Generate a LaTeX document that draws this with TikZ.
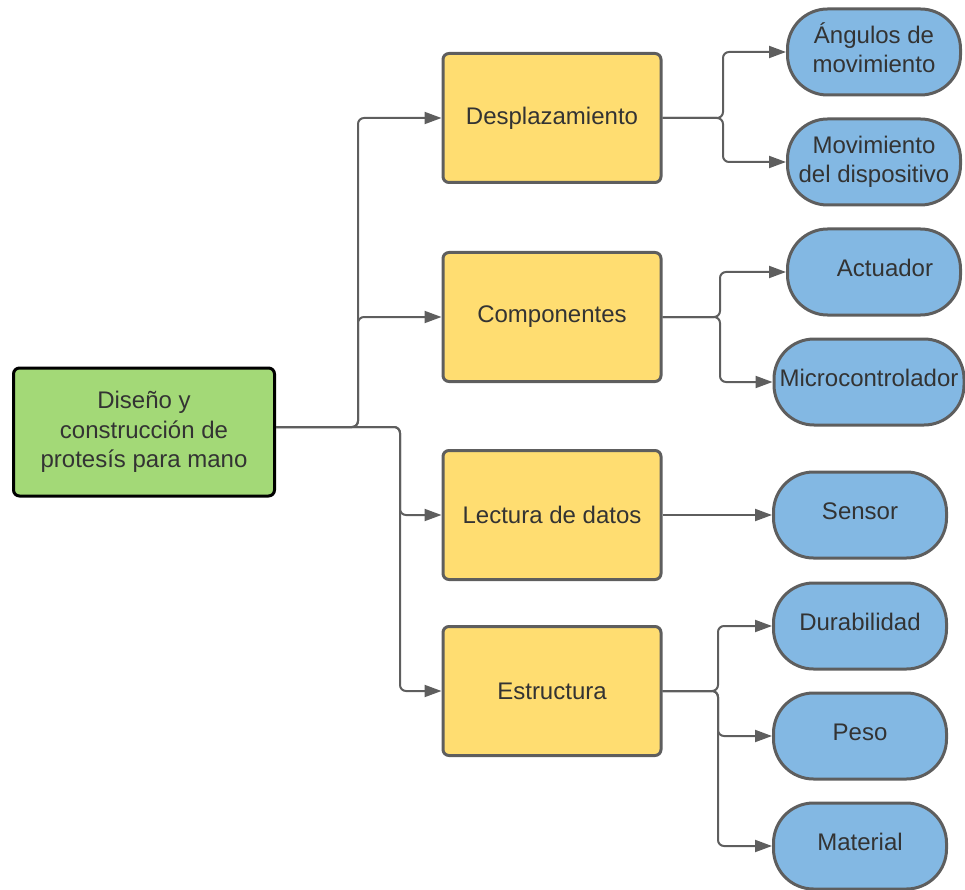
\documentclass[tikz,border=0pt]{standalone}
\usepackage{fontspec}
\setmainfont{Liberation Sans}
\usetikzlibrary{arrows.meta}
\definecolor{rootgreen}{HTML}{A3D977}
\definecolor{topicyellow}{HTML}{FFDD71}
\definecolor{leafblue}{HTML}{83B8E3}
\definecolor{edgegray}{HTML}{5E5E5E}
\definecolor{textgray}{HTML}{333333}
\begin{document}
\begin{tikzpicture}[x=1pt, y=-1pt, >={Triangle[length=17pt,width=12pt]},
  every node/.style={font=\fontsize{24}{29.5}\selectfont, text=textgray, align=center},
  root/.style={draw=black, line width=3pt, fill=rootgreen, rounded corners=6pt, minimum width=261pt, minimum height=128pt},
  topic/.style={draw=edgegray, line width=3pt, fill=topicyellow, rounded corners=6pt, minimum width=218pt, minimum height=129pt},
  leaf/.style={draw=edgegray, line width=3pt, fill=leafblue, rounded corners=40pt, minimum width=173pt, minimum height=86pt, text height=17pt, text depth=8pt},
  twoline/.style={text height=47pt, text depth=5pt},
  link/.style={draw=edgegray, line width=2pt, rounded corners=6pt, ->}]
  \useasboundingbox (0,0) rectangle (965,890);
  \node[root] (root) at (144,432) {Diseño y\\construcción de\\protesís para mano};
  \node[topic] (desp) at (552,118) {Desplazamiento};
  \node[topic] (comp) at (552,317) {Componentes};
  \node[topic] (lect) at (552,515) {Lectura de datos};
  \node[topic] (estr) at (552,691) {Estructura};
  \node[leaf, twoline] (ang) at (874,52) {Ángulos de\\movimiento};
  \node[leaf, twoline] (mov) at (874,162) {Movimiento\\del dispositivo};
  \node[leaf] (act) at (874,272) {\hspace*{22pt}Actuador};
  \node[leaf, minimum width=190pt] (micro) at (869,382) {Microcontrolador};
  \node[leaf] (sens) at (860,515) {Sensor};
  \node[leaf] (dur) at (860,626) {Durabilidad};
  \node[leaf] (peso) at (860,736) {Peso};
  \node[leaf] (mat) at (860,846) {Material};
  \coordinate (j1) at (358,427);
  \coordinate (j2) at (400,427);
  \coordinate (d1) at (723,118);
  \coordinate (c1) at (720,317);
  \coordinate (e1) at (718,691);
  \draw[link] (root.east |- j1) -- (j1) |- (desp.west);
  \draw[link] (root.east |- j1) -- (j1) |- (comp.west);
  \draw[link] (root.east |- j1) -- (j2) |- (lect.west);
  \draw[link] (root.east |- j1) -- (j2) |- (estr.west);
  \draw[link] (desp.east) -- (d1) |- (ang.west);
  \draw[link] (desp.east) -- (d1) |- (mov.west);
  \draw[link] (comp.east) -- (c1) |- (act.west);
  \draw[link] (comp.east) -- (c1) |- (micro.west);
  \draw[link] (lect.east) -- (sens.west);
  \draw[link] (estr.east) -- (e1) |- (dur.west);
  \draw[link] (estr.east) -- (e1) |- (peso.west);
  \draw[link] (estr.east) -- (e1) |- (mat.west);
\end{tikzpicture}
\end{document}
